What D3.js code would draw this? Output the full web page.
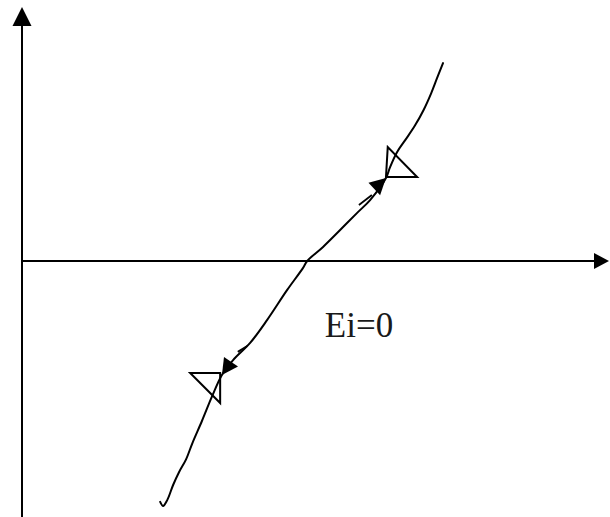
<!DOCTYPE html>
<html>
<head>
<meta charset="utf-8">
<script src="https://cdn.jsdelivr.net/npm/d3@7"></script>
<style>
  body { margin: 0; background: #fff; }
  svg { display: block; }
</style>
</head>
<body>
<svg class="chart" width="610" height="517"></svg>
<script>
// curve (x, y in axis units, origin at the axes crossing)
const curveX = [71.6, 70.6, 69.6, 68.3, 66.8, 65.2, 63.8, 62.6, 61.9, 59.2, 57.0, 54.1, 51.2, 48.5, 47.8, 45.1, 41.7, 38.8, 35.9, 34.0, 32.3, 30.6, 29.0, 27.9, 26.7, 25.7, 24.7, 24.0, 23.5];
const curveY = [77.3, 71.5, 65.6, 59.0, 52.8, 47.3, 42.6, 36.7, 32.4, 23.8, 18.8, 12.1, 5.5, 0, -2.7, -11.3, -23.0, -32.0, -38.7, -44.5, -53.0, -62.5, -71.0, -77.5, -82.5, -87.5, -93.4, -95.7, -94.1];

// open triangles sitting on the curve
const triUpper = [[62.2, 44.5], [61.9, 32.8], [67.2, 32.8]];
const triLower = [[28.6, -43.75], [33.7, -43.75], [33.7, -55.5]];

// filled arrow heads: tip and the point they come from
const arrowTips = [[61.9, 32.4], [34.0, -44.5]];
const arrowFrom = [[59.9, 28.1], [35.5, -39.5]];

// short shaft strokes beside the arrow heads
const shafts = [[[57.3, 21.9], [59.5, 25.8]], [[36.7, -35.5], [38.3, -33.2]]];

const label = 'Ei=0';
const labelPos = [51.5, -29.7];

const svg = d3.select('.chart');
const width = +svg.attr('width');
const height = +svg.attr('height');

const x = d3.scaleLinear().domain([0, 100]).range([22, 610]);
const y = d3.scaleLinear().domain([-100, 100]).range([517, 5]);

const g = svg.append('g');

// axes
g.append('line')
    .attr('x1', x(0)).attr('y1', height)
    .attr('x2', x(0)).attr('y2', y(100) + 18)
    .attr('stroke', '#000').attr('stroke-width', 2);

g.append('path')
    .attr('d', `M${x(0)},${y(100) + 2} L${x(0) - 9.5},${y(100) + 21} L${x(0) + 9.5},${y(100) + 21} Z`)
    .attr('fill', '#000');

g.append('line')
    .attr('x1', x(0)).attr('y1', y(0))
    .attr('x2', x(100) - 14).attr('y2', y(0))
    .attr('stroke', '#000').attr('stroke-width', 2);

g.append('path')
    .attr('d', `M${x(100) - 1},${y(0)} L${x(100) - 16},${y(0) - 8} L${x(100) - 16},${y(0) + 8} Z`)
    .attr('fill', '#000');

// the curve
const pts = curveX.map((d, i) => [d, curveY[i]]);
const line = d3.line()
    .x(d => x(d[0]))
    .y(d => y(d[1]));

const smooth = d3.line()
    .x(d => x(d[0]))
    .y(d => y(d[1]))
    .curve(d3.curveCatmullRom.alpha(0.5));

g.append('path')
    .datum(pts)
    .attr('d', smooth)
    .attr('fill', 'none')
    .attr('stroke', '#000')
    .attr('stroke-width', 2)
    .attr('stroke-linejoin', 'round')
    .attr('stroke-linecap', 'round');

// triangles
g.selectAll('.tri')
    .data([triUpper, triLower])
    .enter()
    .append('path')
    .attr('class', 'tri')
    .attr('d', d => line(d) + 'Z')
    .attr('fill', 'none')
    .attr('stroke', '#000')
    .attr('stroke-width', 2);

// arrow heads
const arrowLen = 16, arrowHalf = 8.5;
g.selectAll('.arrow')
    .data(arrowTips.map((t, i) => ({ tip: t, from: arrowFrom[i] })))
    .enter()
    .append('path')
    .attr('class', 'arrow')
    .attr('d', d => {
        const tx = x(d.tip[0]), ty = y(d.tip[1]);
        const fx = x(d.from[0]), fy = y(d.from[1]);
        const a = Math.atan2(ty - fy, tx - fx);
        const bx = tx - arrowLen * Math.cos(a), by = ty - arrowLen * Math.sin(a);
        const px = -Math.sin(a) * arrowHalf, py = Math.cos(a) * arrowHalf;
        return `M${tx},${ty} L${bx + px},${by + py} L${bx - px},${by - py} Z`;
    })
    .attr('fill', '#000');

g.selectAll('.shaft')
    .data(shafts)
    .enter()
    .append('path')
    .attr('class', 'shaft')
    .attr('d', line)
    .attr('fill', 'none')
    .attr('stroke', '#000')
    .attr('stroke-width', 1.8);

g.append('text')
    .attr('x', x(labelPos[0]))
    .attr('y', y(labelPos[1]))
    .attr('font-family', '"Liberation Serif", "Times New Roman", serif')
    .attr('font-size', 35)
    .attr('fill', '#1a1a1a')
    .text(label);
</script>
</body>
</html>
